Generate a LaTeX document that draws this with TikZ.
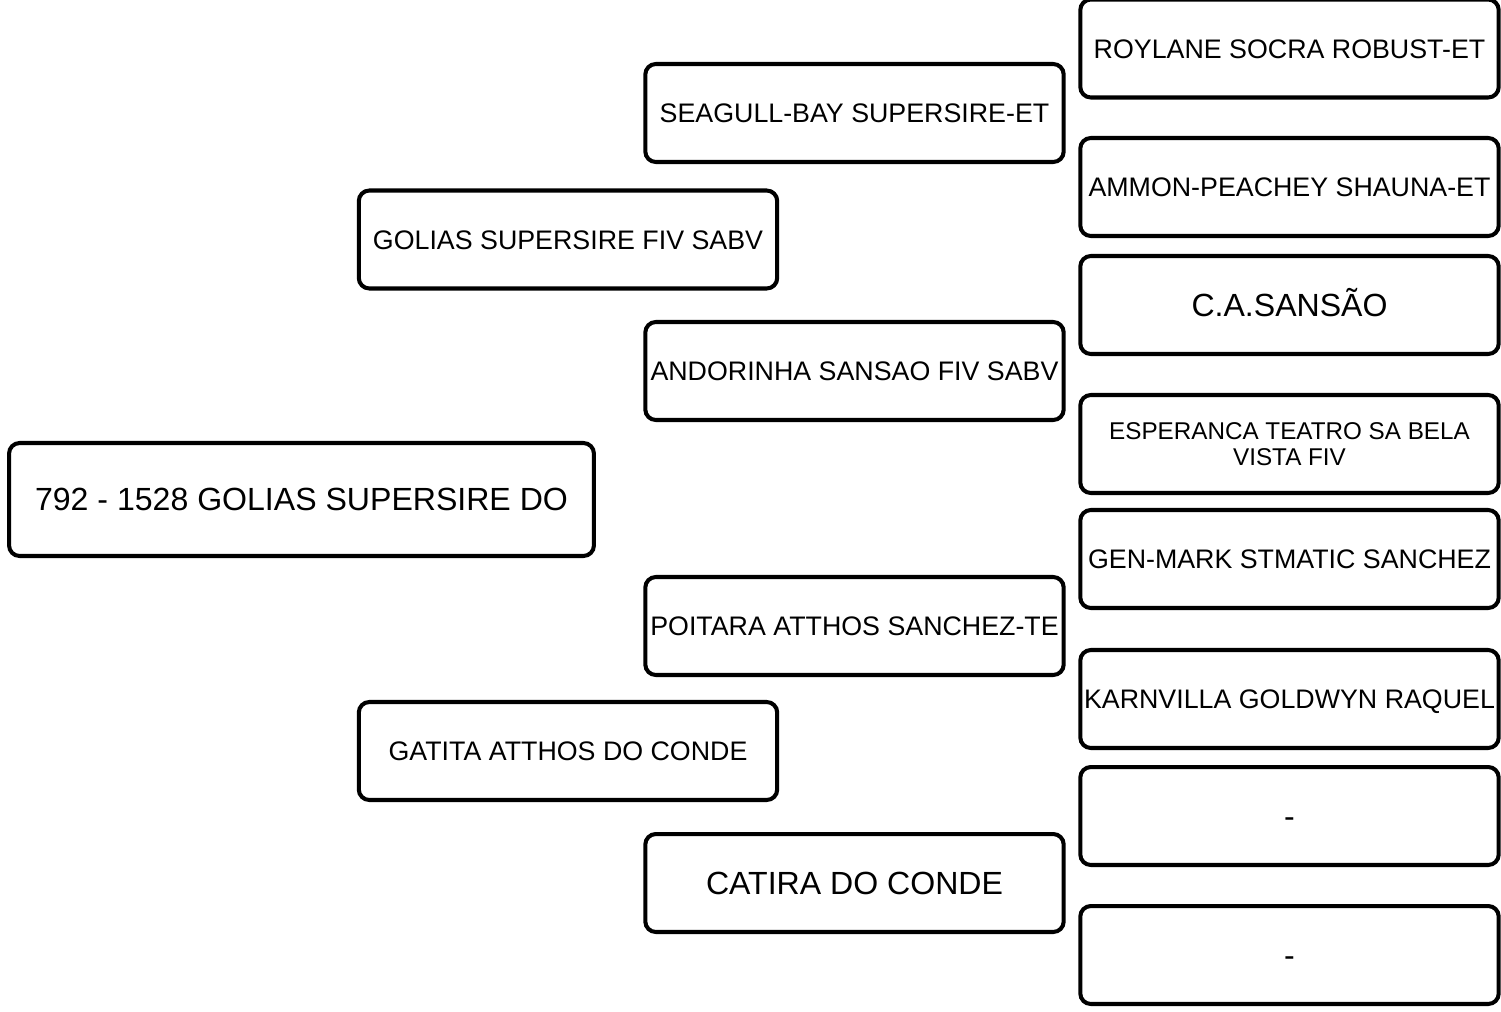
\documentclass[tikz,border=0pt]{standalone}
\usepackage{fontspec}
\setmainfont{Liberation Sans}
\usetikzlibrary{positioning}

\begin{document}
\begin{tikzpicture}[
  x=0.02cm, y=-0.02cm,
  frame/.style={rectangle, rounded corners=6pt, draw=black, line width=2.3pt, fill=white,
                minimum width=8.37cm, minimum height=1.96cm, inner sep=0pt, align=center},
  box/.style={frame, text height=10.9pt, text depth=0pt, font=\fontsize{15.25}{17}\selectfont},
  bigbox/.style={frame, text height=13.05pt, text depth=0pt, font=\fontsize{18.25}{21}\selectfont},
  rootbox/.style={bigbox, minimum width=11.7cm, minimum height=2.26cm},
  smallbox/.style={frame, font=\fontsize{13.8}{15}\selectfont},
]
\useasboundingbox (0,0) rectangle (1501,1011);

% animal
\node[rootbox] (animal) at (301.5,499.5) {792 - 1528 GOLIAS SUPERSIRE DO};

% parents
\node[box] (sire) at (568,239.5) {GOLIAS SUPERSIRE FIV SABV};
\node[box] (dam)  at (568,751)   {GATITA ATTHOS DO CONDE};

% grandparents
\node[box]    (ss) at (854.5,113) {SEAGULL-BAY SUPERSIRE-ET};
\node[box]    (sd) at (854.5,371) {ANDORINHA SANSAO FIV SABV};
\node[box]    (ds) at (854.5,626) {POITARA ATTHOS SANCHEZ-TE};
\node[bigbox] (dd) at (854.5,883) {CATIRA DO CONDE};

% great-grandparents
\node[box]      (sss) at (1289.5,48.5) {ROYLANE SOCRA ROBUST-ET};
\node[box]      (ssd) at (1289.5,187)  {AMMON-PEACHEY SHAUNA-ET};
\node[bigbox]   (sds) at (1289.5,305)  {C.A.SANSÃO};
\node[smallbox] (sdd) at (1289.5,444)  {ESPERANCA TEATRO SA BELA\\VISTA FIV};
\node[box]      (dss) at (1289.5,559)  {GEN-MARK STMATIC SANCHEZ};
\node[box]      (dsd) at (1289.5,699)  {KARNVILLA GOLDWYN RAQUEL};
\node[bigbox]   (dds) at (1289.5,816)  {-};
\node[bigbox]   (ddd) at (1289.5,955)  {-};

\end{tikzpicture}
\end{document}
